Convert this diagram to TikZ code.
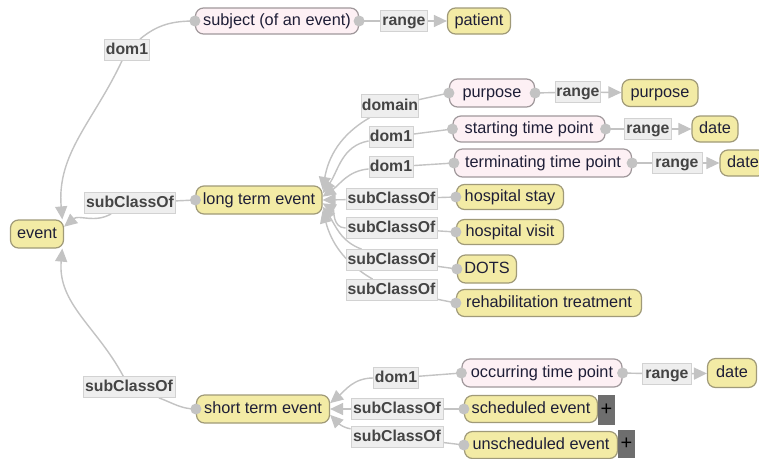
\documentclass[tikz,border=0pt]{standalone}
\usepackage{fontspec}
\setmainfont{Liberation Sans}
\usetikzlibrary{arrows.meta}
\pgfdeclarelayer{bg}
\pgfsetlayers{bg,main}
\definecolor{yfill}{RGB}{243,235,165}
\definecolor{ydraw}{RGB}{160,154,120}
\definecolor{pfill}{RGB}{253,240,244}
\definecolor{pdraw}{RGB}{160,152,155}
\definecolor{lfill}{RGB}{238,238,238}
\definecolor{ldraw}{RGB}{210,210,210}
\definecolor{ltext}{RGB}{68,68,68}
\definecolor{ntext}{RGB}{30,30,55}
\definecolor{conn}{RGB}{195,195,195}
\definecolor{plusfill}{RGB}{110,110,110}
\tikzset{
 cls/.style={draw=ydraw, fill=yfill, line width=1.2pt, rounded corners=8pt, inner sep=0pt, minimum height=26pt, text=ntext, text height=11.5pt, text depth=3pt, font=\fontsize{16.3}{18}\selectfont},
 prop/.style={cls, draw=pdraw, fill=pfill},
 lbl/.style={draw=ldraw, fill=lfill, line width=0.8pt, inner sep=0pt, minimum height=21pt, text=ltext, text height=11.5pt, text depth=3pt, font=\fontsize{15.8}{18}\selectfont\bfseries},
 con/.style={draw=conn, line width=1.4pt},
 arr/.style={con, -{Triangle[length=13pt,width=12pt]}},
 plusbox/.style={fill=plusfill, inner sep=0pt, font=\fontsize{20}{20}\selectfont, text=black},
}
\begin{document}
\begin{tikzpicture}[x=1pt,y=-1pt]
\useasboundingbox (0,0) rectangle (759,458);
% nodes
\node[cls, minimum width=53pt, minimum height=28pt] (event) at (37,234) {event};
\node[prop, minimum width=163pt] (subj) at (277,21) {subject (of an event)};
\node[lbl, minimum width=47pt] (r1) at (404,21) {range};
\node[cls, minimum width=63pt] (patient) at (479,21) {patient};
\node[lbl, minimum width=45pt] (d1) at (127,50) {dom1};
\node[cls, minimum width=126pt, minimum height=28pt] (lt) at (259,200) {long term event};
\node[lbl, minimum width=91pt] (sclt) at (130,203) {subClassOf};
\node[lbl, minimum width=57pt, minimum height=23pt] (dmn) at (390,106) {domain};
\node[lbl, minimum width=44pt] (d2) at (391,137) {dom1};
\node[lbl, minimum width=44pt] (d3) at (391,167) {dom1};
\node[lbl, minimum width=91pt] (s1) at (391.5,199) {subClassOf};
\node[lbl, minimum width=91pt] (s2) at (391.5,228) {subClassOf};
\node[lbl, minimum width=91pt] (s3) at (391.5,260) {subClassOf};
\node[lbl, minimum width=91pt] (s4) at (391.5,290) {subClassOf};
\node[prop, minimum width=85pt, minimum height=28pt] (purp1) at (492,93) {purpose};
\node[lbl, minimum width=45pt] (r2) at (578,92) {range};
\node[cls, minimum width=76pt, minimum height=27pt] (purp2) at (660,93) {purpose};
\node[prop, minimum width=152pt] (stp) at (529,129) {starting time point};
\node[lbl, minimum width=47pt] (r3) at (648,129) {range};
\node[cls, minimum width=46pt] (date1) at (715,129) {date};
\node[prop, minimum width=177pt, minimum height=28pt] (ttp) at (543,163) {terminating time point};
\node[lbl, minimum width=50pt] (r4) at (677,163) {range};
\node[cls, minimum width=46pt] (date2) at (743,163) {date};
\node[cls, minimum width=107pt, minimum height=25pt] (hs) at (510,197) {hospital stay};
\node[cls, minimum width=107pt, minimum height=25pt] (hv) at (510,232) {hospital visit};
\node[cls, minimum width=59pt, minimum height=28pt] (dots) at (487,269) {DOTS};
\node[cls, minimum width=185pt, minimum height=27pt] (rt) at (549,303) {rehabilitation treatment};
\node[lbl, minimum width=92pt] (scst) at (129,387) {subClassOf};
\node[cls, minimum width=133pt, minimum height=28pt] (st) at (263,409) {short term event};
\node[lbl, minimum width=45pt] (d4) at (396,378) {dom1};
\node[lbl, minimum width=92pt] (s5) at (397,409) {subClassOf};
\node[lbl, minimum width=92pt] (s6) at (397,437) {subClassOf};
\node[prop, minimum width=160pt, minimum height=28pt] (otp) at (542,373) {occurring time point};
\node[lbl, minimum width=49pt] (r5) at (667,374) {range};
\node[cls, minimum width=49pt, minimum height=29pt] (date3) at (732,373) {date};
\node[cls, minimum width=133pt, minimum height=27pt] (se) at (531,409) {scheduled event};
\node[plusbox, minimum width=17pt, minimum height=30pt] (p1) at (606.5,410) {+};
\node[cls, minimum width=153pt, minimum height=27pt] (ue) at (541,445) {unscheduled event};
\node[plusbox, minimum width=17pt, minimum height=28pt] (p2) at (626.5,444) {+};
% connectors
\begin{pgfonlayer}{bg}
\fill[white] (0,0) rectangle (759,458);
\draw[con] (subj.west) to[out=180,in=40] (d1);
\draw[arr] (d1) to[out=-115,in=95] (event.30);
\draw[con] (subj.east) -- (r1);
\draw[arr] (r1) -- (patient);
\draw[con] (lt.west) -- (sclt);
\draw[arr] (sclt) to[out=-150,in=40] (event.15);
\draw[con] (st.west) to[out=180,in=-20] (scst);
\draw[arr] (scst) to[out=118,in=-95] (event.-30);
\draw[con] (purp1.west) -- (dmn);
\draw[arr] (dmn) to[out=-150,in=80] (lt.9);
\draw[con] (stp.west) -- (d2);
\draw[arr] (d2) to[out=190,in=55] (lt.6);
\draw[con] (ttp.west) -- (d3);
\draw[arr] (d3) to[out=185,in=35] (lt.3);
\draw[con] (hs.west) -- (s1);
\draw[arr] (s1) -- (lt.east);
\draw[con] (hv.west) -- (s2);
\draw[arr] (s2) to[out=180,in=-30] (lt.-3);
\draw[con] (dots.west) -- (s3);
\draw[arr] (s3) to[out=160,in=-55] (lt.-6);
\draw[con] (rt.west) -- (s4);
\draw[arr] (s4) to[out=150,in=-75] (lt.-9);
\draw[con] (purp1.east) -- (r2);
\draw[arr] (r2) -- (purp2);
\draw[con] (stp.east) -- (r3);
\draw[arr] (r3) -- (date1);
\draw[con] (ttp.east) -- (r4);
\draw[arr] (r4) -- (date2);
\draw[con] (otp.west) -- (d4);
\draw[arr] (d4) to[out=180,in=40] (st.5);
\draw[con] (se.west) -- (s5);
\draw[arr] (s5) -- (st.east);
\draw[con] (ue.west) -- (s6);
\draw[arr] (s6) to[out=170,in=-45] (st.-5);
\draw[con] (otp.east) -- (r5);
\draw[arr] (r5) -- (date3);
\end{pgfonlayer}
% end dots
\foreach \n in {subj,purp1,stp,ttp,otp} {\fill[conn] (\n.west) circle (5.5pt); \fill[conn] (\n.east) circle (5.5pt);}
\foreach \n in {lt,st,hs,hv,dots,rt,se,ue} {\fill[conn] (\n.west) circle (5.5pt);}
\end{tikzpicture}
\end{document}
